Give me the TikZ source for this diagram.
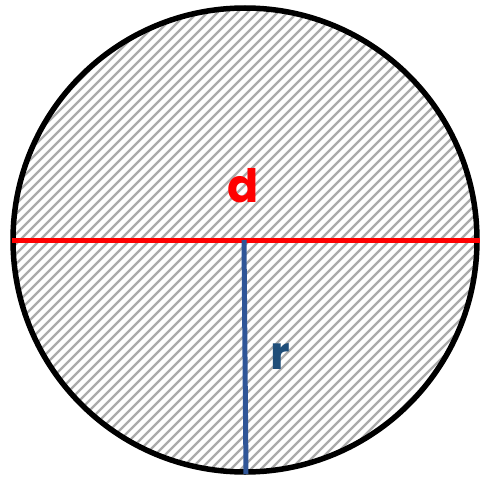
\documentclass[tikz,border=0pt]{standalone}
\usepackage{fontspec}
\setmainfont{Poppins}
\definecolor{hatchgray}{HTML}{ABABAB}
\definecolor{diamred}{HTML}{FF0000}
\definecolor{radblue}{HTML}{2F5597}
\definecolor{labblue}{HTML}{1F4E79}
\tikzset{
  hatch/.style={draw=hatchgray, line width=2.4pt},
  rim/.style={draw=black, line width=5.5pt},
  diam/.style={draw=diamred, line width=5pt},
  rad/.style={draw=radblue, line width=5pt},
  lab/.style={inner sep=0pt, font=\fontsize{46}{50}\selectfont\bfseries}
}
\begin{document}
\begin{tikzpicture}[x=1pt,y=-1pt]
\useasboundingbox (0,0) rectangle (480,479);
\coordinate (c) at (245,240);
\begin{scope}
  \clip (c) circle (232);
  \fill[white] (c) circle (232);
  \foreach \i in {-480,-470,...,480} {
    \draw[hatch] (\i,480) -- ++(480,-480);
  }
\end{scope}
\node[rim, circle, minimum size=464pt, inner sep=0pt] (circ) at (c) {};
\coordinate (L) at (12,240);
\coordinate (R) at (480,240);
\coordinate (T) at (244,240);
\coordinate (B) at (246,474);
\draw[diam] (L) -- (R);
\draw[rad] (T) -- (B);
\node[lab, text=diamred] (d) at (243,186) {d};
\node[lab, text=labblue] (r) at (280,357) {r};
\end{tikzpicture}
\end{document}
